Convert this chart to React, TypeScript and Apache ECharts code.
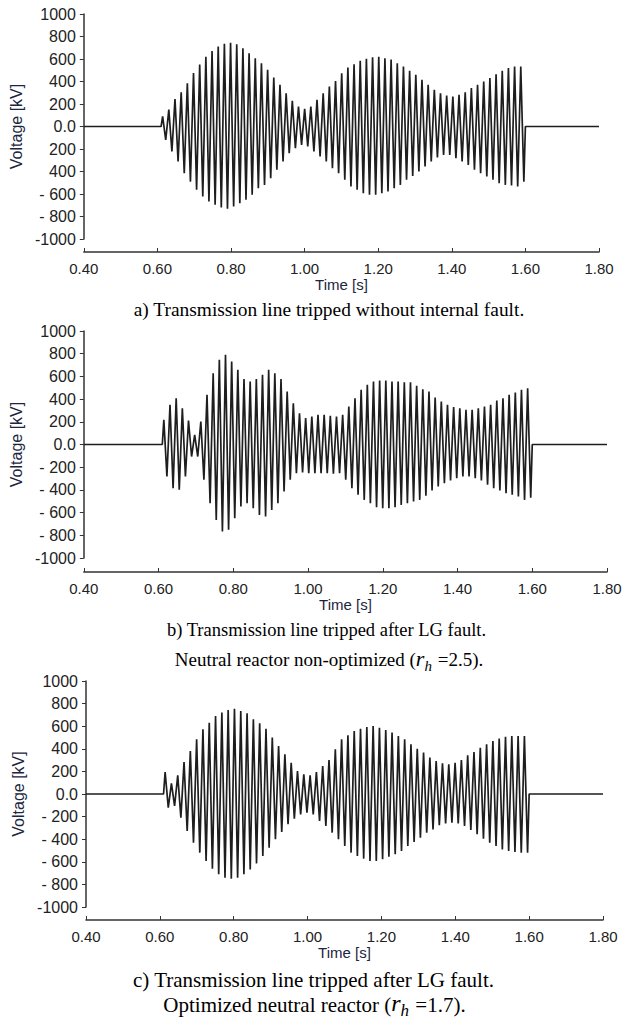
import React, { useEffect, useRef } from "react";
import * as echarts from "echarts";

// Axis ticks
const xTicks = [0.4, 0.6, 0.8, 1.0, 1.2, 1.4, 1.6, 1.8];
const yTicksA: Record<string, string> = { "1000": "1000", "800": "800", "600": "600", "400": "400", "200": "200", "0": "0.0", "-200": "200", "-400": "400", "-600": "- 600", "-800": "- 800", "-1000": "-1000" };
const yTicksBC: Record<string, string> = { "1000": "1000", "800": "800", "600": "600", "400": "400", "200": "200", "0": "0.0", "-200": "- 200", "-400": "- 400", "-600": "- 600", "-800": "- 800", "-1000": "-1000" };

// Oscillation window [s]
const oscStart = 0.61;
const oscEnd = 1.6;

// Panel a: positive / negative peak voltage of each cycle [kV]
const posA = [90, 150, 245, 305, 385, 475, 550, 620, 670, 710, 735, 745, 730, 695, 650, 607, 563, 505, 435, 370, 296, 228, 178, 157, 178, 237, 296, 355, 405, 474, 524, 554, 584, 601, 616, 619, 607, 596, 563, 533, 495, 459, 415, 370, 326, 296, 276, 267, 281, 305, 341, 370, 400, 430, 465, 495, 519, 533, 533];
const negA = [-120, -222, -311, -415, -490, -563, -622, -667, -696, -720, -732, -711, -681, -652, -607, -548, -519, -459, -385, -311, -237, -193, -163, -178, -222, -267, -311, -370, -415, -474, -533, -563, -593, -607, -607, -593, -578, -548, -519, -474, -439, -400, -356, -311, -276, -252, -252, -281, -311, -341, -385, -415, -444, -474, -504, -519, -524, -533, -490];

// Panel b
const posB = [217, 350, 408, 320, 211, 85, 203, 438, 628, 746, 790, 731, 658, 576, 555, 576, 614, 658, 628, 576, 467, 364, 276, 232, 247, 261, 261, 253, 247, 261, 335, 408, 482, 526, 555, 564, 564, 555, 555, 549, 549, 517, 487, 467, 414, 379, 350, 329, 320, 305, 305, 320, 335, 350, 388, 408, 438, 458, 482, 496];
const negB = [-282, -385, -399, -282, -106, -106, -311, -517, -664, -767, -752, -649, -546, -517, -561, -620, -634, -576, -517, -414, -311, -253, -247, -253, -253, -253, -253, -258, -253, -311, -385, -443, -488, -517, -552, -561, -561, -552, -532, -517, -502, -488, -452, -405, -370, -341, -317, -297, -282, -282, -297, -317, -355, -385, -405, -429, -443, -458, -488, -470];

// Panel c
const posC = [195, 94, 165, 283, 381, 484, 572, 631, 690, 720, 743, 755, 735, 714, 661, 625, 578, 499, 425, 351, 277, 204, 174, 165, 195, 248, 301, 395, 484, 519, 558, 578, 593, 602, 587, 566, 543, 513, 484, 440, 401, 366, 322, 292, 271, 263, 277, 301, 342, 372, 410, 440, 469, 490, 507, 513, 513, 513];
const negC = [-121, -106, -209, -327, -431, -519, -593, -661, -711, -740, -749, -740, -711, -667, -614, -549, -475, -401, -336, -268, -218, -180, -165, -180, -239, -283, -342, -401, -460, -519, -549, -572, -593, -593, -578, -555, -534, -504, -460, -425, -386, -342, -313, -277, -260, -254, -260, -283, -319, -357, -395, -431, -460, -490, -504, -513, -519, -519];

function buildWave(pos: number[], neg: number[]): number[][] {
  const n = Math.min(pos.length, neg.length);
  const T = (oscEnd - oscStart) / n;
  const out: number[][] = [[0.4, 0], [oscStart, 0]];
  for (let i = 0; i < n; i++) {
    out.push([oscStart + (i + 0.25) * T, pos[i]]);
    out.push([oscStart + (i + 0.75) * T, neg[i]]);
  }
  out.push([oscEnd, 0]);
  out.push([1.8, 0]);
  return out;
}

const panels = [
  { left: 80, top: 14, width: 519, height: 225, offset: 13, labels: yTicksA, pos: posA, neg: negA, nameGap: 45 },
  { left: 82, top: 331, width: 525, height: 227, offset: 14, labels: yTicksBC, pos: posB, neg: negB, nameGap: 52 },
  { left: 86, top: 681, width: 517, height: 226, offset: 13, labels: yTicksBC, pos: posC, neg: negC, nameGap: 49 },
];

const serif = "'Liberation Serif', 'Times New Roman', serif";
const sans = "'Liberation Sans', Arial, sans-serif";

function caption(x: number, y: number, size: number, text: string, rich?: any) {
  return {
    type: "text",
    x,
    y,
    style: {
      text,
      fill: "#000",
      font: `${size}px ${serif}`,
      fontFamily: serif,
      fontSize: size,
      align: "center",
      verticalAlign: "middle",
      rich,
    },
  };
}

function richSub(size: number) {
  return {
    a: { fontFamily: serif, fontSize: size, color: "#000", verticalAlign: "bottom", lineHeight: size + 2, padding: [0, 0, 4, 0] },
    r: { fontFamily: serif, fontSize: size + 3, fontStyle: "italic", color: "#000", verticalAlign: "bottom", lineHeight: size + 5, padding: [0, 0, 4, 0] },
    h: { fontFamily: serif, fontSize: size - 4, fontStyle: "italic", color: "#000", verticalAlign: "bottom", lineHeight: size - 2, padding: [0, 1, 0, 0] },
  };
}

export default function App() {
  const ref = useRef<HTMLDivElement>(null);
  useEffect(() => {
    if (!ref.current) return;
    const chart = echarts.init(ref.current, null, { renderer: "svg" });
    const option: any = {
      animation: false,
      backgroundColor: "#fff",
      grid: panels.map((p) => ({ left: p.left, top: p.top, width: p.width, height: p.height, containLabel: false })),
      xAxis: panels.map((p, i) => ({
        type: "value",
        gridIndex: i,
        min: 0.4,
        max: 1.8,
        interval: 0.2,
        offset: p.offset,
        name: "Time [s]",
        nameLocation: "middle",
        nameGap: 23,
        nameTextStyle: { fontFamily: sans, fontSize: 15, color: "#1b2540", verticalAlign: "top" },
        axisLine: { show: true, onZero: false, lineStyle: { color: "#333", width: 1.5 } },
        axisTick: { show: true, inside: true, length: 4, lineStyle: { color: "#333" } },
        axisLabel: { fontFamily: sans, fontSize: 15, color: "#222", margin: 9, formatter: (v: number) => (xTicks.some((t) => Math.abs(t - v) < 1e-6) ? v.toFixed(2) : "") },
        splitLine: { show: false },
      })),
      yAxis: panels.map((p, i) => ({
        type: "value",
        gridIndex: i,
        min: -1000,
        max: 1000,
        interval: 200,
        name: "Voltage [kV]",
        nameLocation: "middle",
        nameGap: p.nameGap,
        nameTextStyle: { fontFamily: sans, fontSize: 16, color: "#1b2540" },
        axisLine: { show: true, lineStyle: { color: "#333", width: 1.5 } },
        axisTick: { show: true, length: 4, lineStyle: { color: "#333" } },
        axisLabel: { fontFamily: sans, fontSize: 16, color: "#222", margin: 8, formatter: (v: number) => p.labels[String(Math.round(v))] ?? "" },
        splitLine: { show: false },
      })),
      series: panels.map((p, i) => ({
        type: "line",
        xAxisIndex: i,
        yAxisIndex: i,
        data: buildWave(p.pos, p.neg),
        showSymbol: false,
        symbol: "none",
        lineStyle: { color: "#1e1e1e", width: 1.7 },
        itemStyle: { color: "#1e1e1e" },
      })),
      graphic: [
        caption(329, 309, 19.4, "a) Transmission line tripped without internal fault."),
        caption(326.5, 630, 18.5, "b) Transmission line tripped after LG fault."),
        caption(329, 661, 19, "{a|Neutral reactor non-optimized (}{r|r}{h|h}{a| =2.5).}", richSub(19)),
        caption(313.5, 980, 21, "c) Transmission line tripped after LG fault."),
        caption(314.5, 1006, 21, "{a|Optimized neutral reactor (}{r|r}{h|h}{a| =1.7).}", richSub(21)),
      ],
    };
    chart.setOption(option);
    return () => chart.dispose();
  }, []);
  return <div ref={ref} style={{ position: "absolute", left: 0, top: 0, width: 636, height: 1019 }} />;
}
